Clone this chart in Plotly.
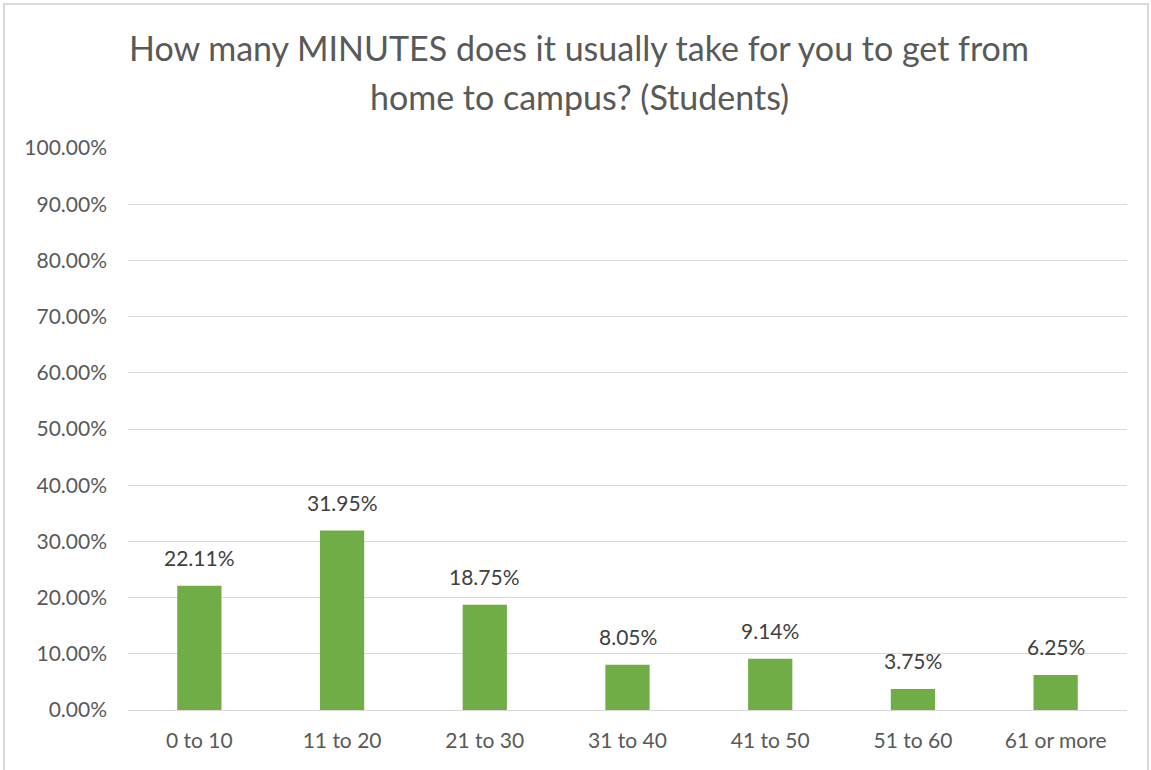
import plotly.graph_objects as go

# Commute time survey results (students)
categories = ["0 to 10", "11 to 20", "21 to 30", "31 to 40", "41 to 50", "51 to 60", "61 or more"]
shares = [0.2211, 0.3195, 0.1875, 0.0805, 0.0914, 0.0375, 0.0625]
share_labels = ["22.11%", "31.95%", "18.75%", "8.05%", "9.14%", "3.75%", "6.25%"]
title_lines = ["How many MINUTES does it usually take for you to get from",
               "home to campus? (Students)"]

FONT = "Lato, Open Sans, sans-serif"
GRID = "#d9d9d9"
W, H = 1151, 770
L, R, T, B = 128, 24, 148, 60
PW, PH = W - L - R, H - T - B

fig = go.Figure(
    go.Bar(
        x=categories,
        y=shares,
        marker=dict(color="#70ad47", line=dict(width=0)),
        width=0.31,
        hoverinfo="skip",
    )
)

# value labels sit above each bar
annotations = [
    dict(
        text=lab,
        x=cat, y=val,
        xref="x", yref="y",
        yshift=28,
        xanchor="center", yanchor="middle",
        showarrow=False,
        font=dict(family=FONT, size=21, color="#404040"),
    )
    for cat, val, lab in zip(categories, shares, share_labels)
]

# two-line chart title, placed per line
title_y = [48, 96]
annotations += [
    dict(
        text=line,
        xref="paper", yref="paper",
        x=(579 - L) / PW,
        y=(H - B - ty) / PH,
        xanchor="center", yanchor="middle",
        showarrow=False,
        font=dict(family=FONT, size=34, color="#595959"),
    )
    for line, ty in zip(title_lines, title_y)
]

fig.update_layout(
    width=W,
    height=H,
    margin=dict(l=L, r=R, t=T, b=B),
    paper_bgcolor="white",
    plot_bgcolor="white",
    showlegend=False,
    annotations=annotations,
    xaxis=dict(
        showgrid=False,
        showline=True,
        linecolor=GRID,
        linewidth=1,
        ticks="",
        tickfont=dict(family=FONT, size=21, color="#595959"),
        ticklabelstandoff=12,
    ),
    yaxis=dict(
        range=[0, 1],
        dtick=0.1,
        tickformat=".2%",
        showgrid=True,
        gridcolor=GRID,
        gridwidth=1,
        zeroline=False,
        ticks="",
        tickfont=dict(family=FONT, size=21, color="#595959"),
        ticklabelstandoff=20,
    ),
    shapes=[
        dict(
            type="rect",
            xref="paper",
            yref="paper",
            x0=(4 - L) / PW,
            x1=(1148 - L) / PW,
            y0=(H - B - 772) / PH,
            y1=(H - B - 4) / PH,
            line=dict(color=GRID, width=2),
            fillcolor="rgba(0,0,0,0)",
            layer="below",
        )
    ],
)

fig.write_html("out.html")
